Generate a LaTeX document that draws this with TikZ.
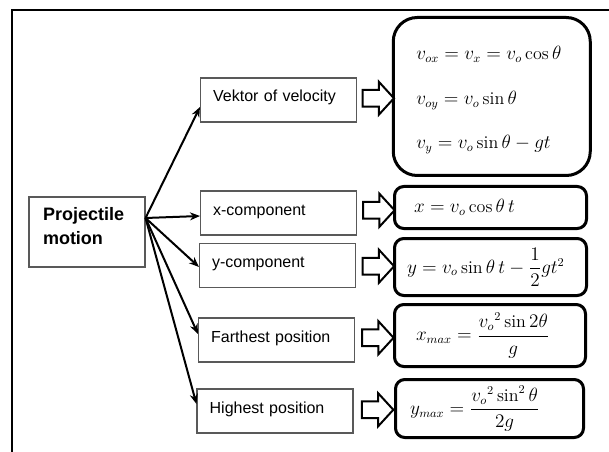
\documentclass[tikz,border=0pt]{standalone}
\usepackage{amsmath}
\usepackage{fontspec}
\setsansfont{Liberation Sans}
\usetikzlibrary{arrows.meta,positioning,shapes,calc}

\begin{document}
\begin{tikzpicture}[x=0.75pt, y=-0.75pt,
                    every topic/.style = {fill=white},
                    topic/.style = {rectangle, draw=black!65, line width=0.8pt, inner sep=0pt,
                            minimum width=117pt, minimum height=33pt, text width=98pt, align=left,
                            text height=8.5pt, text depth=5.5pt, font=\sffamily\fontsize{12}{14}\selectfont, every topic},
                    main topic/.style = {rectangle, draw=black!65, line width=0.8pt, inner sep=0pt,
                            minimum width=87pt, minimum height=52.5pt, text width=66pt, align=left,
                            text depth=27pt, font=\sffamily\bfseries\fontsize{13.5}{18}\selectfont, every topic},
                    formula/.style = {rectangle, rounded corners=7pt, draw=black, line width=2.25pt,
                            inner sep=0pt, align=left, fill=white, font=\fontsize{13.5}{16}\selectfont},
                    branch/.style = {-{Stealth[length=7.5pt,width=6pt]}, line width=1.5pt},
                    hollow arrow/.style = {single arrow, draw=black, line width=1.5pt, fill=white, inner sep=0pt,
                            text height=5.6pt, text depth=5.6pt, minimum height=23.5pt,
                            single arrow head extend=6pt, single arrow tip angle=95},
                    frame/.style = {line width=1.5pt} ]

                \useasboundingbox (0,0) rectangle (609,452);
                \draw[frame] (609,10) -- (12,10) -- (12,452);

                \node [main topic] (Projectile) at (87,232) {Projectile\\motion};

                \node [topic] (Velocity) at (278.5,100) {Vektor of velocity};
                \node [topic] (XComponent) at (278.5,213) {x-component};
                \node [topic] (YComponent) at (277.5,265.5) {y-component};
                \node [topic] (Farthest) at (276.5,340) {Farthest position};
                \node [topic] (Highest) at (275,411) {Highest position};

                % formulas right
                \node [formula, rounded corners=18pt, minimum width=147.75pt, minimum height=118.5pt, text width=113.25pt,
                        text height=15.5pt]
                        (VelocityForm) at (491.75,96.5)
                        {$v_{ox} = v_x = v_o \cos\theta$\\[18pt] $v_{oy} = v_o \sin\theta$\\[17pt] $v_y = v_o \sin\theta - gt$};
                \node [formula, minimum width=144pt, minimum height=31.5pt, text width=114.75pt]
                        (XForm) at (490.5,207.5) {$x = v_o \cos\theta\, t$};
                \node [formula, minimum width=144pt, minimum height=42.75pt, text width=125.25pt]
                        (YForm) at (490.5,267) {$y = v_o \sin\theta\, t - \dfrac{1}{2}gt^2$};
                \node [formula, minimum width=143.25pt, minimum height=46.5pt, text width=111pt]
                        (FarthestForm) at (490,335.5) {$x_{max} = \dfrac{{v_o}^2 \sin 2\theta}{g}$};
                \node [formula, minimum width=141pt, minimum height=43.5pt, text width=119pt]
                        (HighestForm) at (489.5,408.5) {$y_{max} = \dfrac{{v_o}^2 \sin^2\theta}{2g}$};

                % branches from projectile motion
                \coordinate (fork) at ($(Projectile.east)+(0,-14)$);
                \draw[branch] (fork) -- ([yshift=-5.25pt]Velocity.west);
                \draw[branch] (fork) -- ([yshift=-2.25pt]XComponent.west);
                \draw[branch] (fork) -- ([yshift=-1.1pt]YComponent.west);
                \draw[branch] (fork) -- ([yshift=4.5pt]Farthest.west);
                \draw[branch] (fork) -- ([yshift=5.25pt]Highest.west);

                % hollow arrows
                \node [hollow arrow] (VelocityArrow) at ($(Velocity.east)!.5!(VelocityForm.west)$) {};
                \node [hollow arrow] (XArrow) at ($(XComponent.east)!.5!(XForm.west)$) {};
                \node [hollow arrow] (YArrow) at ($(YComponent.east)!.5!(YForm.west)$) {};
                \node [hollow arrow] (FarthestArrow) at ($(Farthest.east)!.5!(FarthestForm.west)$) {};
                \node [hollow arrow] (HighestArrow) at ($(Highest.east)!.5!(HighestForm.west)$) {};
            \end{tikzpicture}
\end{document}
